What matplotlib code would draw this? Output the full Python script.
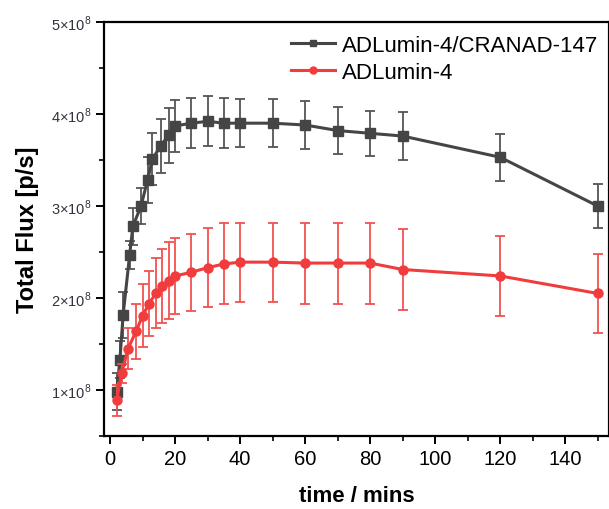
import numpy as np
import matplotlib.pyplot as plt
from matplotlib.ticker import MultipleLocator, FixedLocator
from matplotlib.lines import Line2D

plt.rcParams["font.family"] = ["Liberation Sans", "DejaVu Sans"]
plt.rcParams["mathtext.fontset"] = "custom"
plt.rcParams["mathtext.rm"] = "Liberation Sans"

# dane (jednostki: 1e8 p/s)
t_combo = [2, 3, 4, 6, 7, 9.5, 11.5, 13, 15.5, 18, 20, 25, 30, 35, 40, 50,
           60, 70, 80, 90, 120, 150]
flux_combo = [0.98, 1.33, 1.82, 2.47, 2.78, 3.00, 3.28, 3.51, 3.65, 3.77, 3.87,
              3.90, 3.92, 3.90, 3.90, 3.90, 3.88, 3.82, 3.79, 3.76, 3.53, 3.00]
err_combo = [0.20, 0.20, 0.25, 0.15, 0.20, 0.20, 0.25, 0.28, 0.29, 0.30, 0.28,
             0.27, 0.27, 0.27, 0.26, 0.26, 0.26, 0.26, 0.245, 0.26, 0.255, 0.235]

t_single = [2, 3.5, 5.5, 8, 10, 12, 14, 16, 18, 20, 25, 30, 35, 40, 50,
            60, 70, 80, 90, 120, 150]
flux_single = [0.89, 1.18, 1.45, 1.64, 1.81, 1.94, 2.05, 2.13, 2.19, 2.24, 2.28,
               2.33, 2.37, 2.39, 2.39, 2.38, 2.38, 2.38, 2.31, 2.24, 2.05]
err_single = [0.17, 0.10, 0.22, 0.30, 0.34, 0.35, 0.38, 0.40, 0.42, 0.41, 0.42,
              0.43, 0.44, 0.43, 0.43, 0.44, 0.44, 0.44, 0.44, 0.43, 0.43]

labels = ["ADLumin-4/CRANAD-147", "ADLumin-4"]
y_ticks = [1, 2, 3, 4, 5]
x_ticks = [0, 20, 40, 60, 80, 100, 120, 140]

gray = "#454545"
red = "#f03c3c"

fig = plt.figure(figsize=(6.09, 5.10), dpi=100)
ax = fig.add_axes([0.171, 0.143, 0.829, 0.812])

ax.errorbar(t_combo, np.array(flux_combo) * 1e8, yerr=np.array(err_combo) * 1e8,
            color=gray, ecolor="#555555", elinewidth=1.3, capsize=3.5, capthick=1.3,
            lw=2.2, marker="s", markersize=6.5, zorder=3)
ax.errorbar(t_single, np.array(flux_single) * 1e8, yerr=np.array(err_single) * 1e8,
            color=red, ecolor="#f25050", elinewidth=1.3, capsize=3.5, capthick=1.3,
            lw=2.2, marker="o", markersize=6.5, zorder=4)

ax.set_xlim(-1.85, 153.5)
ax.set_ylim(0.5e8, 5e8)

ax.xaxis.set_major_locator(FixedLocator(x_ticks))
ax.xaxis.set_minor_locator(MultipleLocator(10))
ax.yaxis.set_major_locator(FixedLocator([v * 1e8 for v in y_ticks]))
ax.yaxis.set_minor_locator(MultipleLocator(0.5e8))
ax.set_yticklabels([f"{v}×10$^{{8}}$" for v in y_ticks], fontsize=10.5, color="#333340")
ax.tick_params(axis="x", labelsize=14.5)

ax.tick_params(which="major", direction="out", length=6, width=1.4)
ax.tick_params(which="minor", direction="out", length=3.5, width=1.2)
for s in ax.spines.values():
    s.set_linewidth(1.6)

ax.set_xlabel("time / mins", fontsize=16, fontweight="bold", labelpad=12)
ax.set_ylabel("Total Flux [p/s]", fontsize=17, fontweight="bold", labelpad=8)

handles = [Line2D([], [], color=gray, lw=2.2, marker="s", markersize=5),
           Line2D([], [], color=red, lw=2.2, marker="o", markersize=5)]
ax.legend(handles, labels, loc="upper left", bbox_to_anchor=(0.352, 0.99), frameon=False,
          fontsize=16, handlelength=2.0, handletextpad=0.3, labelspacing=0.25,
          borderaxespad=0)

fig.savefig("out.png", dpi=100)
